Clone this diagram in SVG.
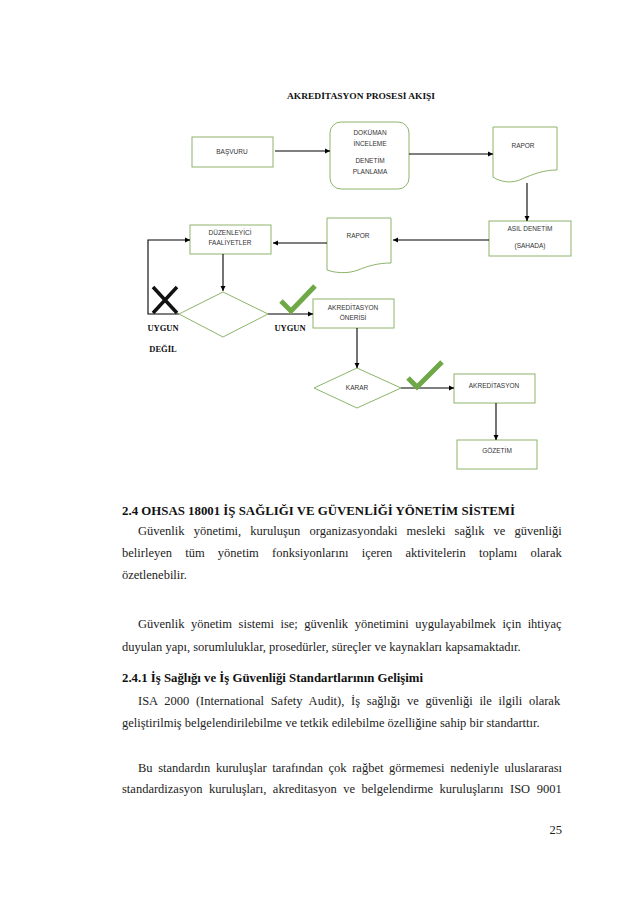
<svg xmlns="http://www.w3.org/2000/svg" width="638" height="903" viewBox="0 0 638 903">
<style>
.box{fill:#fff;stroke:#8db46a;stroke-width:1}
.lbl{font-family:"Liberation Sans",Arial,sans-serif;font-size:6.5px;fill:#333;text-anchor:middle}
.ttl{font-family:"Liberation Serif","Times New Roman",serif;font-weight:bold;fill:#111}
.con{fill:none;stroke:#000;stroke-width:1.1}
.chk{fill:none;stroke:#6fa846;stroke-width:5}
.body{font-family:"Liberation Serif","Times New Roman",serif;font-size:12.5px;fill:#222}
.bh{font-family:"Liberation Serif","Times New Roman",serif;font-size:12.5px;font-weight:bold;fill:#111}
</style>
<defs>
<marker id="ah" markerWidth="6" markerHeight="6" refX="5" refY="3" orient="auto" markerUnits="userSpaceOnUse">
<path d="M0,0.5 L5,3 L0,5.5 Z" fill="#000"/>
</marker>
</defs>
<rect width="638" height="903" fill="#fff"/>

<text class="ttl" x="361" y="99" font-size="8.5" text-anchor="middle" textLength="148" lengthAdjust="spacingAndGlyphs">AKREDİTASYON PROSESİ AKIŞI</text>

<g id="basvuru">
<rect class="box" x="192" y="137" width="81" height="30"/>
<text class="lbl" x="232" y="154">BAŞVURU</text>
</g>
<g id="dokuman">
<rect class="box" x="330" y="122" width="79" height="67" rx="11"/>
<text class="lbl" x="370" y="135">DOKÜMAN</text>
<text class="lbl" x="370" y="146">İNCELEME</text>
<text class="lbl" x="370" y="163">DENETİM</text>
<text class="lbl" x="370" y="174">PLANLAMA</text>
</g>
<g id="rapor1">
<path class="box" d="M493,127 H557 V170 C544,170 533,174 522,179 C512,184 500,182 493,177 Z"/>
<text class="lbl" x="523" y="148">RAPOR</text>
</g>
<g id="asil">
<rect class="box" x="489" y="221" width="82" height="35"/>
<text class="lbl" x="530" y="231">ASIL DENETİM</text>
<text class="lbl" x="530" y="248">(SAHADA)</text>
</g>
<g id="rapor2">
<path class="box" d="M327,218 H391 V263 C378,263 368,266 358,270 C348,274 335,273 327,270 Z"/>
<text class="lbl" x="358" y="238">RAPOR</text>
</g>
<g id="duzenleyici">
<rect class="box" x="190" y="225" width="81" height="29"/>
<text class="lbl" x="230" y="235">DÜZENLEYİCİ</text>
<text class="lbl" x="230" y="245">FAALİYETLER</text>
</g>
<g id="karar1">
<polygon class="box" points="223,292 268,314 223,337 179,314"/>
</g>
<g id="oneri">
<rect class="box" x="313" y="299" width="81" height="29"/>
<text class="lbl" x="353" y="310">AKREDİTASYON</text>
<text class="lbl" x="353" y="320">ÖNERİSİ</text>
</g>
<g id="karar2">
<polygon class="box" points="357,368 401,388 357,408 314,388"/>
<text class="lbl" x="357" y="390">KARAR</text>
</g>
<g id="akreditasyon">
<rect class="box" x="454" y="374" width="81" height="29"/>
<text class="lbl" x="494" y="388">AKREDİTASYON</text>
</g>
<g id="gozetim">
<rect class="box" x="457" y="440" width="80" height="29"/>
<text class="lbl" x="497" y="453">GÖZETİM</text>
</g>

<g id="connectors">
<line class="con" x1="275" y1="151" x2="330" y2="151" marker-end="url(#ah)"/>
<line class="con" x1="409" y1="154" x2="493" y2="154" marker-end="url(#ah)"/>
<line class="con" x1="527" y1="183" x2="527" y2="221" marker-end="url(#ah)"/>
<line class="con" x1="489" y1="240" x2="393" y2="240" marker-end="url(#ah)"/>
<line class="con" x1="327" y1="243" x2="273" y2="243" marker-end="url(#ah)"/>
<line class="con" x1="223" y1="254" x2="223" y2="291" marker-end="url(#ah)"/>
<polyline class="con" points="179,314 148,314 148,240 190,240" marker-end="url(#ah)"/>
<line class="con" x1="268" y1="314" x2="313" y2="314" marker-end="url(#ah)"/>
<line class="con" x1="357" y1="328" x2="357" y2="368" marker-end="url(#ah)"/>
<line class="con" x1="401" y1="388" x2="454" y2="388" marker-end="url(#ah)"/>
<line class="con" x1="496" y1="403" x2="496" y2="440" marker-end="url(#ah)"/>
</g>

<g id="marks">
<path d="M153,287 L177,313 M177,287 L153,313" stroke="#111" stroke-width="3.5" fill="none"/>
<polyline class="chk" points="281,301 291,311 315,286"/>
<polyline class="chk" points="408,378 417,387 442,362"/>
<text class="ttl" x="163" y="331" font-size="8.5" text-anchor="middle">UYGUN</text>
<text class="ttl" x="163" y="352" font-size="8.5" text-anchor="middle">DEĞİL</text>
<text class="ttl" x="290" y="331" font-size="8.5" text-anchor="middle">UYGUN</text>
</g>

<g id="text">
<text class="bh" x="122" y="515" textLength="393" lengthAdjust="spacingAndGlyphs">2.4 OHSAS 18001 İŞ SAĞLIĞI VE GÜVENLİĞİ YÖNETİM SİSTEMİ</text>
<text class="body" x="138" y="535" word-spacing="6">Güvenlik yönetimi, kuruluşun organizasyondaki mesleki sağlık ve güvenliği</text>
<text class="body" x="122" y="557" word-spacing="10.1">belirleyen tüm yönetim fonksiyonlarını içeren aktivitelerin toplamı olarak</text>
<text class="body" x="122" y="579">özetlenebilir.</text>
<text class="body" x="138" y="628" word-spacing="3.4">Güvenlik yönetim sistemi ise; güvenlik yönetimini uygulayabilmek için ihtiyaç</text>
<text class="body" x="122" y="651">duyulan yapı, sorumluluklar, prosedürler, süreçler ve kaynakları kapsamaktadır.</text>
<text class="bh" x="122" y="682" textLength="301" lengthAdjust="spacingAndGlyphs">2.4.1 İş Sağlığı ve İş Güvenliği Standartlarının Gelişimi</text>
<text class="body" x="138" y="705" word-spacing="3.6">ISA 2000 (International Safety Audit), İş sağlığı ve güvenliği ile ilgili olarak</text>
<text class="body" x="122" y="727">geliştirilmiş belgelendirilebilme ve tetkik edilebilme özelliğine sahip bir standarttır.</text>
<text class="body" x="138" y="772" word-spacing="2.5">Bu standardın kuruluşlar tarafından çok rağbet görmemesi nedeniyle uluslararası</text>
<text class="body" x="122" y="793" word-spacing="3.4">standardizasyon kuruluşları, akreditasyon ve belgelendirme kuruluşlarını ISO 9001</text>
<text class="body" x="562" y="834" text-anchor="end">25</text>
</g>
</svg>
